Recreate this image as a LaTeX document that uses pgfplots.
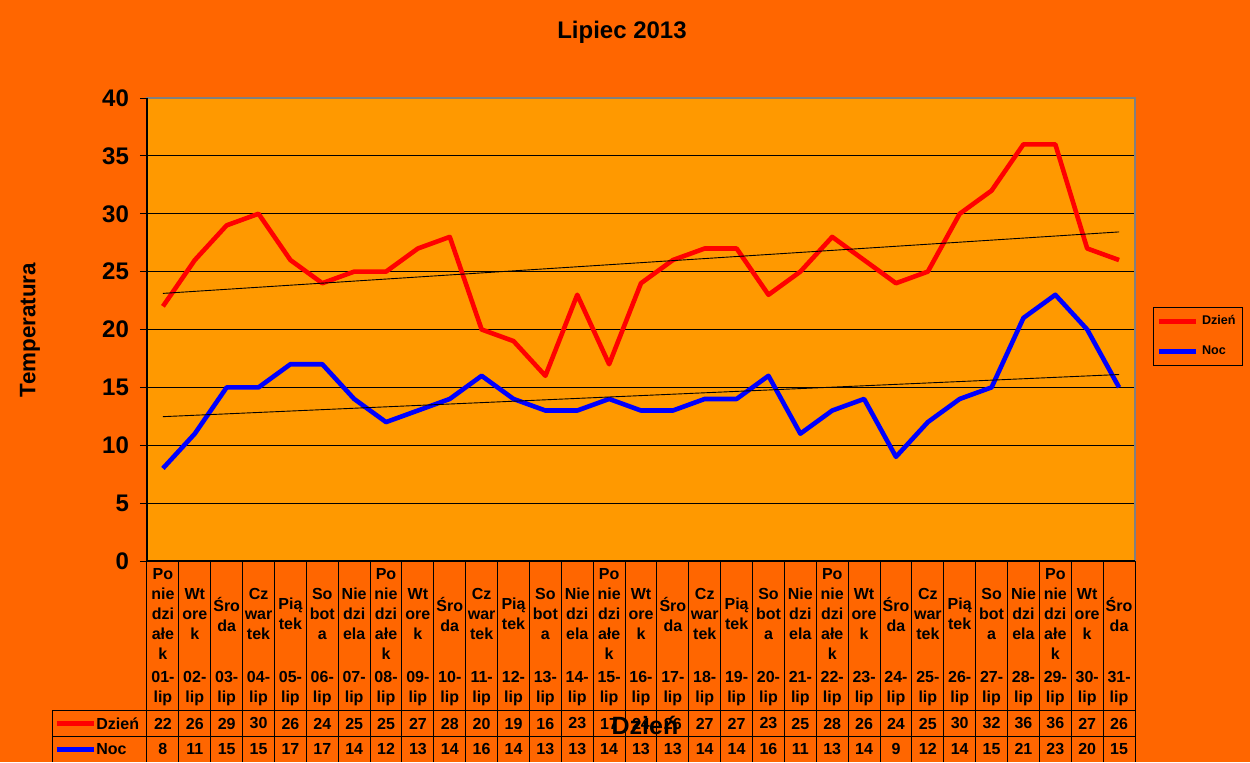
\documentclass[border=0pt]{standalone}
\usepackage{fontspec}
\setmainfont{Liberation Sans}
\usepackage{pgfplots}
\usepackage{pgfplotstable}
\pgfplotsset{compat=1.18}
\definecolor{bgor}{HTML}{FF6600}
\definecolor{plotor}{HTML}{FF9900}
\definecolor{edgegray}{HTML}{808080}

\pgfplotstableread{
day dzien noc
1 22 8
2 26 11
3 29 15
4 30 15
5 26 17
6 24 17
7 25 14
8 25 12
9 27 13
10 28 14
11 20 16
12 19 14
13 16 13
14 23 13
15 17 14
16 24 13
17 26 13
18 27 14
19 27 14
20 23 16
21 25 11
22 28 13
23 26 14
24 24 9
25 25 12
26 30 14
27 32 15
28 36 21
29 36 23
30 27 20
31 26 15
}\datatable

\def\cw{15.93548}

\begin{document}
\begin{tikzpicture}[font=\bfseries]
\fill[bgor] (-73.5pt,-100.5pt) rectangle (551.5pt,280.5pt);
\begin{axis}[
  at={(0,0)}, anchor=south west, scale only axis,
  width=494pt, height=231.5pt,
  xmin=0.5, xmax=31.5, ymin=0, ymax=40,
  xtick=\empty, ytick={0,5,...,40}, ytick pos=left,
  tick align=outside, major tick length=3.5pt,
  tick style={black, line width=0.5pt},
  ymajorgrids, grid style={black, line width=0.5pt},
  axis background/.style={fill=plotor},
  axis line style={edgegray, line width=0.7pt},
  yticklabel style={font=\bfseries\fontsize{12}{12}\selectfont, /pgf/number format/assume math mode=true, xshift=-2pt},
  legend style={at={(axis description cs:1.0182,0.5486)}, anchor=north west,
    draw=black, line width=0.5pt, fill=bgor,
    font=\bfseries\fontsize{6.3}{7}\selectfont,
    inner xsep=1.5pt, inner ysep=2pt, row sep=5pt,
    minimum width=0pt, text depth=0pt},
  legend cell align=left,
  legend image code/.code={\draw[#1] (-1pt,0pt) -- (17.5pt,0pt);},
  clip=false,
]
\addplot[red, line width=2.3pt, line join=round] table[x=day,y=dzien]{\datatable};
\addlegendentry{Dzień}
\addplot[blue, line width=2.3pt, line join=round] table[x=day,y=noc]{\datatable};
\addlegendentry{Noc}
\addplot[black, line width=0.45pt, forget plot] coordinates {(1,23.12) (31,28.43)};
\addplot[black, line width=0.45pt, forget plot] coordinates {(1,12.47) (31,16.11)};
\end{axis}
% black left and bottom axis lines
\draw[black, line width=0.6pt] (0,231.5pt) -- (0,0) -- (494pt,0);
% table grid
\foreach \k in {0,...,31} \draw[black, line width=0.5pt] (\k*\cw pt,0) -- (\k*\cw pt,-100.5pt);
\draw[black, line width=0.5pt] (-47pt,-74.65pt) -- (494pt,-74.65pt);
\draw[black, line width=0.5pt] (-47pt,-87.85pt) -- (494pt,-87.85pt);
\draw[black, line width=0.5pt] (-47pt,-74.65pt) -- (-47pt,-100.5pt);
% header: day names
\begin{scope}[every node/.style={font=\bfseries\fontsize{8}{10}\selectfont, align=center, inner sep=0pt}]
\foreach \nm [count=\i] in {%
 {Po\\nie\\dzi\\ałe\\k},{Wt\\ore\\k},{Śro\\da},{Cz\\war\\tek},{Pią\\tek},{So\\bot\\a},{Nie\\dzi\\ela},%
 {Po\\nie\\dzi\\ałe\\k},{Wt\\ore\\k},{Śro\\da},{Cz\\war\\tek},{Pią\\tek},{So\\bot\\a},{Nie\\dzi\\ela},%
 {Po\\nie\\dzi\\ałe\\k},{Wt\\ore\\k},{Śro\\da},{Cz\\war\\tek},{Pią\\tek},{So\\bot\\a},{Nie\\dzi\\ela},%
 {Po\\nie\\dzi\\ałe\\k},{Wt\\ore\\k},{Śro\\da},{Cz\\war\\tek},{Pią\\tek},{So\\bot\\a},{Nie\\dzi\\ela},%
 {Po\\nie\\dzi\\ałe\\k},{Wt\\ore\\k},{Śro\\da}}
  \node at ({(\i-0.5)*\cw pt}, -26.5pt) {\nm};
\foreach \i in {1,...,31}
  \node at ({(\i-0.5)*\cw pt}, -64pt) {\ifnum\i<10 0\fi\i-\\lip};
\foreach \v [count=\i] in {22,26,29,30,26,24,25,25,27,28,20,19,16,23,17,24,26,27,27,23,25,28,26,24,25,30,32,36,36,27,26}
  \node at ({(\i-0.5)*\cw pt}, -81.25pt) {\v};
\foreach \v [count=\i] in {8,11,15,15,17,17,14,12,13,14,16,14,13,13,14,13,13,14,14,16,11,13,14,9,12,14,15,21,23,20,15}
  \node at ({(\i-0.5)*\cw pt}, -94.2pt) {\v};
\node[anchor=west] at (-25.5pt,-81.25pt) {Dzień};
\node[anchor=west] at (-25.5pt,-94.2pt) {Noc};
\end{scope}
\draw[red, line width=2.3pt] (-45pt,-81.25pt) -- (-26.5pt,-81.25pt);
\draw[blue, line width=2.3pt] (-45pt,-94.2pt) -- (-26.5pt,-94.2pt);
% titles
\node at (237.5pt,264.5pt) {\fontsize{12}{12}\selectfont Lipiec 2013};
\node[rotate=90] at (-58.5pt,115.5pt) {\fontsize{11.2}{11}\selectfont Temperatura};
\node at (249pt,-82pt) {\fontsize{12.5}{12}\selectfont Dzień};
\pgfresetboundingbox
\useasboundingbox (-73.5pt,-100.5pt) rectangle (551.5pt,280.5pt);
\end{tikzpicture}
\end{document}
